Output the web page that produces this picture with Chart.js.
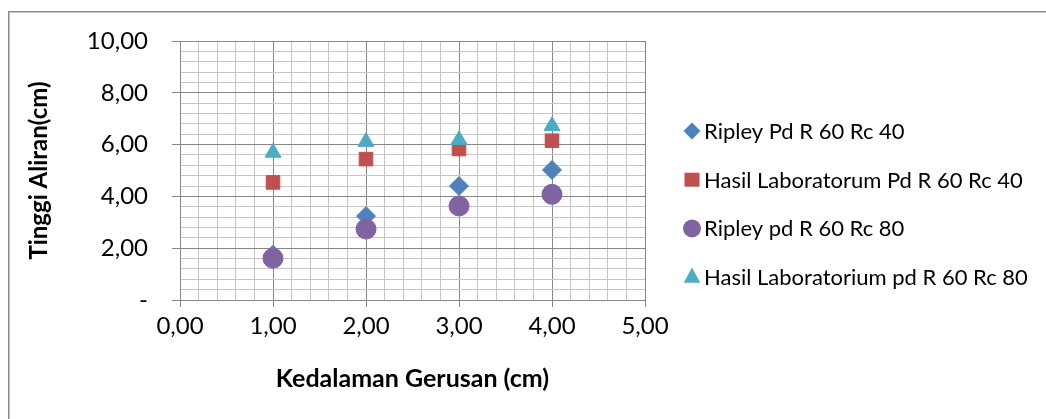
<!DOCTYPE html>
<html>
<head>
<meta charset="utf-8">
<script src="https://cdn.jsdelivr.net/npm/chart.js@4/dist/chart.umd.min.js"></script>
<style>
  html, body { margin: 0; padding: 0; background: #ffffff; }
  canvas { display: block; }
</style>
</head>
<body>
<canvas id="chart" width="1046" height="419"></canvas>
<script>
// Scour depth (cm) on the x axis
const kedalaman = [1, 2, 3, 4];

// Flow height (cm) for each series
const ripleyRc40 = [1.75, 3.24, 4.40, 5.02];
const labRc40    = [4.54, 5.44, 5.83, 6.15];
const ripleyRc80 = [1.61, 2.74, 3.63, 4.08];
const labRc80    = [5.69, 6.11, 6.18, 6.72];

const seriesNames = [
  'Ripley Pd R 60 Rc 40',
  'Hasil Laboratorum Pd R 60 Rc 40',
  'Ripley pd R 60 Rc 80',
  'Hasil Laboratorium pd R 60 Rc 80'
];

const xTitle = 'Kedalaman Gerusan (cm)';
const yTitle = 'Tinggi Aliran(cm)';

const FONT = 'Lato, "Open Sans", sans-serif';
const MAJOR_GRID = '#878787';
const MINOR_GRID = '#c6c6c6';

function pts(ys) {
  return kedalaman.map((x, i) => ({ x: x, y: ys[i] }));
}

function isMultiple(v, step) {
  return Math.abs(v / step - Math.round(v / step)) < 1e-6;
}

function fmt(v) {
  return v.toFixed(2).replace('.', ',');
}

const styles = [
  { color: '#4F81BD', style: 'rectRot', radius: 9.5 },
  { color: '#C0504D', style: 'rect', radius: 9.6 },
  { color: '#8064A2', style: 'circle', radius: 10 },
  { color: '#4BACC6', style: 'triangle', radius: 9.2 }
];
const seriesData = [ripleyRc40, labRc40, ripleyRc80, labRc80];

const datasets = seriesData.map((ys, i) => ({
  label: seriesNames[i],
  data: pts(ys),
  pointStyle: styles[i].style,
  pointRadius: styles[i].radius,
  pointHoverRadius: styles[i].radius,
  backgroundColor: styles[i].color,
  borderColor: styles[i].color,
  pointBorderWidth: 1,
  showLine: false,
  // later series sit on top of earlier ones
  order: seriesData.length - i
}));

// Outer frame of the chart object
const framePlugin = {
  id: 'frame',
  beforeDraw(chart) {
    const c = chart.ctx;
    c.save();
    c.fillStyle = '#ffffff';
    c.fillRect(0, 0, chart.width, chart.height);
    c.strokeStyle = '#8a8a8a';
    c.lineWidth = 1.5;
    c.strokeRect(8.75, 11.75, chart.width + 20, chart.height + 20);
    c.restore();
  }
};

// Marker shapes for the legend column on the right
function drawMarker(c, style, x, y, color) {
  c.save();
  c.fillStyle = color;
  c.beginPath();
  if (style === 'rectRot') {
    const r = 8.5;
    c.moveTo(x - r, y); c.lineTo(x, y - r); c.lineTo(x + r, y); c.lineTo(x, y + r);
  } else if (style === 'rect') {
    c.rect(x - 7.5, y - 7, 15, 14);
  } else if (style === 'circle') {
    c.arc(x, y, 9, 0, Math.PI * 2);
  } else {
    const r = 9.5;
    c.moveTo(x, y - r);
    c.lineTo(x + r * 0.866, y + r * 0.5 + 1);
    c.lineTo(x - r * 0.866, y + r * 0.5 + 1);
  }
  c.closePath();
  c.fill();
  c.restore();
}

const legendPlugin = {
  id: 'sideLegend',
  afterDraw(chart) {
    const c = chart.ctx;
    const x0 = 692, textX = 704, y0 = 131, gap = 48.7;
    c.save();
    c.font = '22px ' + FONT;
    c.textBaseline = 'middle';
    c.textAlign = 'left';
    c.fillStyle = '#000000';
    chart.data.datasets.forEach((ds, i) => {
      const y = y0 + i * gap;
      drawMarker(c, styles[i].style, x0, y, styles[i].color);
      c.fillText(ds.label, textX, y + 1);
    });
    c.restore();
  }
};

new Chart(document.getElementById('chart'), {
  type: 'scatter',
  data: { datasets: datasets },
  plugins: [framePlugin, legendPlugin],
  options: {
    responsive: false,
    animation: false,
    devicePixelRatio: 1,
    layout: { padding: { left: 0, top: 41, right: 401, bottom: 0 } },
    plugins: {
      legend: { display: false },
      tooltip: { enabled: false }
    },
    scales: {
      x: {
        type: 'linear',
        min: 0,
        max: 5,
        afterFit(s) { s.height = 119; },
        ticks: {
          stepSize: 0.2,
          autoSkip: false,
          maxRotation: 0,
          padding: 5,
          color: '#000000',
          font: { family: FONT, size: 24 },
          callback: v => isMultiple(v, 1) ? fmt(v) : ''
        },
        grid: {
          lineWidth: 1,
          tickLength: 7,
          color: ctx => isMultiple(ctx.tick.value, 1) ? MAJOR_GRID : MINOR_GRID,
          tickColor: ctx => isMultiple(ctx.tick.value, 1) ? MAJOR_GRID : 'rgba(0,0,0,0)'
        },
        border: { color: MAJOR_GRID, width: 1 },
        title: {
          display: true,
          text: xTitle,
          color: '#000000',
          font: { family: FONT, size: 25, weight: 'bold' },
          padding: { top: 0, bottom: 25 }
        }
      },
      y: {
        type: 'linear',
        min: 0,
        max: 10,
        afterFit(s) { s.width = 180; },
        ticks: {
          stepSize: 0.4,
          autoSkip: false,
          padding: 24,
          color: '#000000',
          font: { family: FONT, size: 24 },
          callback: v => {
            if (!isMultiple(v, 2)) return '';
            return Math.abs(v) < 1e-9 ? '-' : fmt(v);
          }
        },
        grid: {
          lineWidth: 1,
          tickLength: 8,
          color: ctx => isMultiple(ctx.tick.value, 2) ? MAJOR_GRID : MINOR_GRID,
          tickColor: ctx => isMultiple(ctx.tick.value, 2) ? MAJOR_GRID : 'rgba(0,0,0,0)'
        },
        border: { color: MAJOR_GRID, width: 1 },
        title: {
          display: true,
          text: yTitle,
          color: '#000000',
          font: { family: FONT, size: 24, weight: 'bold' },
          padding: { top: 25, bottom: 0 }
        }
      }
    }
  }
});
</script>
</body>
</html>
